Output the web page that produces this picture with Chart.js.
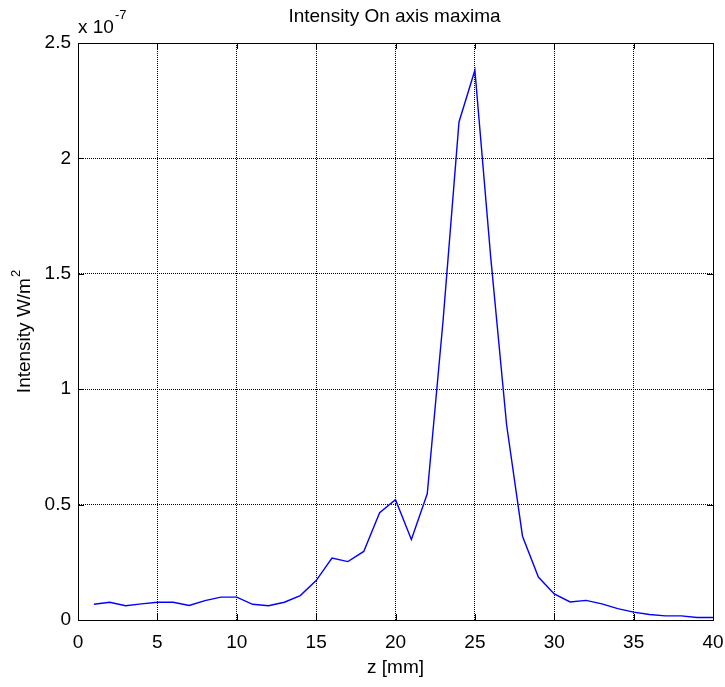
<!DOCTYPE html>
<html>
<head>
<meta charset="utf-8">
<style>
  html, body { margin: 0; padding: 0; background: #fff; }
  #wrap { width: 725px; height: 687px; position: relative; }
</style>
<script src="https://cdn.jsdelivr.net/npm/chart.js@4/dist/chart.umd.min.js"></script>
</head>
<body>
<div id="wrap"><canvas id="chart" width="725" height="687"></canvas></div>
<script>
// z positions [mm]
const zValues = [1, 2, 3, 4, 5, 6, 7, 8, 9, 10,
                 11, 12, 13, 14, 15, 16, 17, 18, 19, 20,
                 21, 22, 23, 24, 25, 26, 27, 28, 29, 30,
                 31, 32, 33, 34, 35, 36, 37, 38, 39, 40];
// on-axis intensity maxima, in units of 1e-7 W/m^2
const intensityE7 = [0.068, 0.077, 0.062, 0.070, 0.077, 0.077, 0.063, 0.084, 0.099, 0.099,
                     0.068, 0.062, 0.077, 0.106, 0.171, 0.268, 0.253, 0.297, 0.465, 0.521,
                     0.349, 0.547, 1.30, 2.158, 2.382, 1.57, 0.845, 0.363, 0.186, 0.113,
                     0.078, 0.085, 0.070, 0.049, 0.034, 0.024, 0.018, 0.018, 0.011, 0.011];
const xTicks = [0, 5, 10, 15, 20, 25, 30, 35, 40];
const yTicks = [0, 0.5, 1, 1.5, 2, 2.5];

const FONT = 'Liberation Sans, Arial, sans-serif';

document.addEventListener('DOMContentLoaded', function () {
    const points = zValues.map((z, i) => ({ x: z, y: intensityE7[i] }));

    // box, inner tick marks, titles and exponent label (MATLAB style)
    const matlabFrame = {
        id: 'matlabFrame',
        afterDraw(chart) {
            const ctx = chart.ctx;
            const a = chart.chartArea;
            const xs = chart.scales.x, ys = chart.scales.y;
            ctx.save();
            ctx.strokeStyle = '#000';
            ctx.lineWidth = 1;
            ctx.setLineDash([]);
            ctx.strokeRect(Math.round(a.left) + 0.5, Math.round(a.top) + 0.5,
                           Math.round(a.right - a.left), Math.round(a.bottom - a.top));
            const tl = 6;
            ctx.beginPath();
            xTicks.forEach(v => {
                const px = Math.round(xs.getPixelForValue(v)) + 0.5;
                ctx.moveTo(px, a.bottom); ctx.lineTo(px, a.bottom - tl);
                ctx.moveTo(px, a.top); ctx.lineTo(px, a.top + tl);
            });
            yTicks.forEach(v => {
                const py = Math.round(ys.getPixelForValue(v)) + 0.5;
                ctx.moveTo(a.left, py); ctx.lineTo(a.left + tl, py);
                ctx.moveTo(a.right, py); ctx.lineTo(a.right - tl, py);
            });
            ctx.stroke();

            ctx.fillStyle = '#000';
            ctx.font = '19px ' + FONT;
            ctx.textAlign = 'center';
            ctx.textBaseline = 'middle';
            ctx.fillText('Intensity On axis maxima', (a.left + a.right) / 2 - 1, 17);

            ctx.textAlign = 'left';
            ctx.fillText('x 10', 78, 28);
            const w = ctx.measureText('x 10').width;
            ctx.font = '13px ' + FONT;
            ctx.fillText('-7', 78 + w + 1, 15);

            // y axis title with a real superscript
            ctx.save();
            ctx.translate(25, (a.top + a.bottom) / 2);
            ctx.rotate(-Math.PI / 2);
            ctx.font = '19px ' + FONT;
            const main = 'Intensity W/m';
            const mw = ctx.measureText(main).width;
            ctx.font = '13px ' + FONT;
            const sw = ctx.measureText('2').width;
            const start = -(mw + sw + 1) / 2;
            ctx.font = '19px ' + FONT;
            ctx.fillText(main, start, 0);
            ctx.font = '13px ' + FONT;
            ctx.fillText('2', start + mw + 1, -9);
            ctx.restore();

            ctx.restore();
        }
    };

    new Chart(document.getElementById('chart'), {
        type: 'line',
        data: {
            datasets: [{
                data: points,
                borderColor: '#0000ff',
                borderWidth: 1.4,
                pointRadius: 0,
                fill: false,
                tension: 0
            }]
        },
        options: {
            responsive: false,
            animation: false,
            layout: { padding: { left: 0, top: 43, right: 12, bottom: 0 } },
            plugins: {
                legend: { display: false },
                tooltip: { enabled: false }
            },
            scales: {
                x: {
                    type: 'linear',
                    min: 0,
                    max: 40,
                    afterFit: s => { s.height = 67; s.paddingLeft = 0; s.paddingRight = 0; },
                    afterBuildTicks: s => { s.ticks = xTicks.map(v => ({ value: v })); },
                    grid: { color: '#000', lineWidth: 1, drawTicks: false },
                    border: { display: true, color: '#000', dash: [1, 1] },
                    ticks: { color: '#000', padding: 11, font: { family: FONT, size: 19 } },
                    title: {
                        display: true,
                        text: 'z [mm]',
                        color: '#000',
                        font: { family: FONT, size: 19 },
                        padding: { top: 0, bottom: 8 }
                    }
                },
                y: {
                    type: 'linear',
                    min: 0,
                    max: 2.5,
                    afterFit: s => { s.width = 78; },
                    afterBuildTicks: s => { s.ticks = yTicks.map(v => ({ value: v })); },
                    grid: { color: '#000', lineWidth: 1, drawTicks: false },
                    border: { display: true, color: '#000', dash: [1, 1] },
                    ticks: {
                        color: '#000',
                        padding: 7,
                        font: { family: FONT, size: 19 },
                        callback: v => String(v)
                    },
                    title: { display: false }
                }
            }
        },
        plugins: [matlabFrame]
    });
});
</script>
</body>
</html>
